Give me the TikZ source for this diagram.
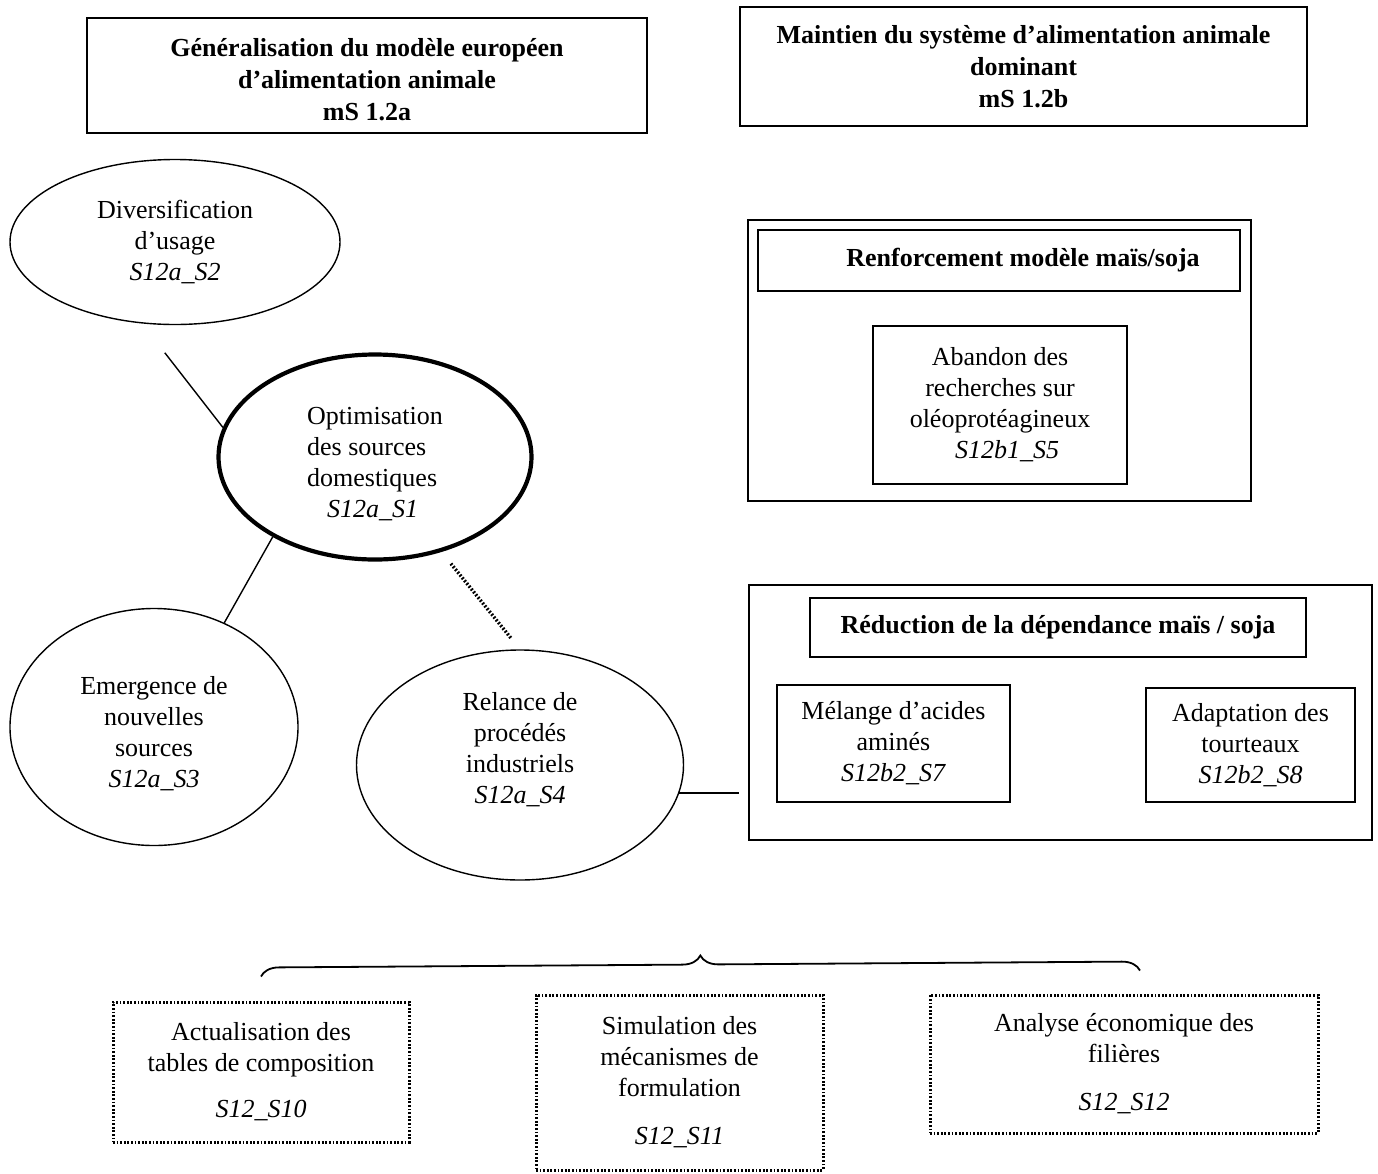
\documentclass[tikz,border=0pt]{standalone}
\usepackage{fontspec}
\setmainfont{Liberation Serif}
\usetikzlibrary{decorations.pathreplacing,positioning,shapes.geometric}

\begin{document}
\begin{tikzpicture}[x=1pt,y=-1pt,font=\fontsize{26}{31}\selectfont,
      framebox/.style={draw,line width=1.6pt,align=center,inner sep=0pt},
      titlebox/.style={framebox,font=\fontsize{26}{32}\selectfont\bfseries},
      themebox/.style={ellipse,draw,line width=1.4pt,align=center,inner sep=0pt},
      toolbox/.style={draw,line width=3pt,dash pattern=on 1.8pt off 1.8pt,
                      align=center,inner sep=0pt},
      link/.style={line width=1.4pt}]
    \useasboundingbox (0,0) rectangle (1378,1173);

    % The two sub-scenario headers.
    \node[titlebox,minimum width=560pt,minimum height=115pt] (gen) at (367,75.5)
      {\mbox{}\\[-5pt]Généralisation du modèle européen\\d’alimentation animale\\mS 1.2a};
    \node[titlebox,minimum width=567pt,minimum height=119pt] (maint) at (1023.5,66.5)
      {Maintien du système d’alimentation animale\\dominant\\mS 1.2b};

    % Left branch: the themes around the domestic sources.
    \node[themebox,minimum width=330pt,minimum height=165pt] (s2) at (175,242)
      {Diversification\\d’usage\\\textit{S12a\_S2}};
    \node[themebox,line width=4.2pt,minimum width=313pt,minimum height=205pt,
          align=left] (s1) at (375,457)
      {\mbox{}\\[1pt]Optimisation\\des sources\\domestiques\\\hspace*{20pt}\textit{S12a\_S1}};
    \node[themebox,minimum width=288pt,minimum height=237pt] (s3) at (154,727)
      {\mbox{}\\[1pt]Emergence de\\nouvelles\\sources\\\textit{S12a\_S3}};
    \node[themebox,minimum width=327pt,minimum height=230pt] (s4) at (520,765)
      {Relance de\\procédés\\industriels\\\textit{S12a\_S4}\\[3pt]\mbox{}};

    % Right branch: two framed groups.
    \node[framebox,minimum width=503pt,minimum height=281pt] (rb1) at (999.5,360.5) {};
    \node[titlebox,minimum width=482pt,minimum height=61pt] (rb1title) at (999,260.5)
      {\hspace*{48pt}Renforcement modèle maïs/soja};
    \node[framebox,minimum width=254pt,minimum height=158pt] (s5) at (1000,405)
      {Abandon des\\recherches sur\\oléoprotéagineux\\\hspace*{14pt}\textit{S12b1\_S5}};
    \node[framebox,minimum width=623pt,minimum height=255pt] (rb2) at (1060.5,712.5) {};
    \node[titlebox,minimum width=496pt,minimum height=59pt] (rb2title) at (1058,627.5)
      {Réduction de la dépendance maïs / soja};
    \node[framebox,minimum width=233pt,minimum height=117pt] (s7) at (893.5,743.5)
      {Mélange d’acides\\aminés\\\textit{S12b2\_S7}};
    \node[framebox,minimum width=209pt,minimum height=114pt] (s8) at (1250.5,745)
      {Adaptation des\\tourteaux\\\textit{S12b2\_S8}};

    \draw[link,shorten <=37pt] (s2.248) -- (s1.169);
    \draw[link] (s1.218) -- (s3.56);
    \draw[link,line width=3.4pt,dash pattern=on 1.8pt off 1.8pt,
          shorten <=15pt,shorten >=13pt] (s1.-55) -- (s4.north);
    \draw[link,shorten >=9pt] (s4.-10) -- (s4.-10 -| rb2.west);

    % Shared tools under one brace.
    \node[toolbox,minimum width=296pt,minimum height=140pt] (t10) at (261,1072)
      {Actualisation des\\tables de composition\\[15pt]\textit{S12\_S10}};
    \node[toolbox,minimum width=287pt,minimum height=175pt] (t11) at (679.5,1082.5)
      {Simulation des\\mécanismes de\\formulation\\[17pt]\textit{S12\_S11}};
    \node[toolbox,minimum width=388pt,minimum height=138pt] (t12) at (1124,1064)
      {Analyse économique des\\filières\\[17pt]\textit{S12\_S12}};
    \draw[line width=1.8pt,decorate,decoration={brace,amplitude=18pt}]
      ([yshift=24pt]t10.north) -- ([xshift=16pt,yshift=23pt]t12.north);
  \end{tikzpicture}
\end{document}
